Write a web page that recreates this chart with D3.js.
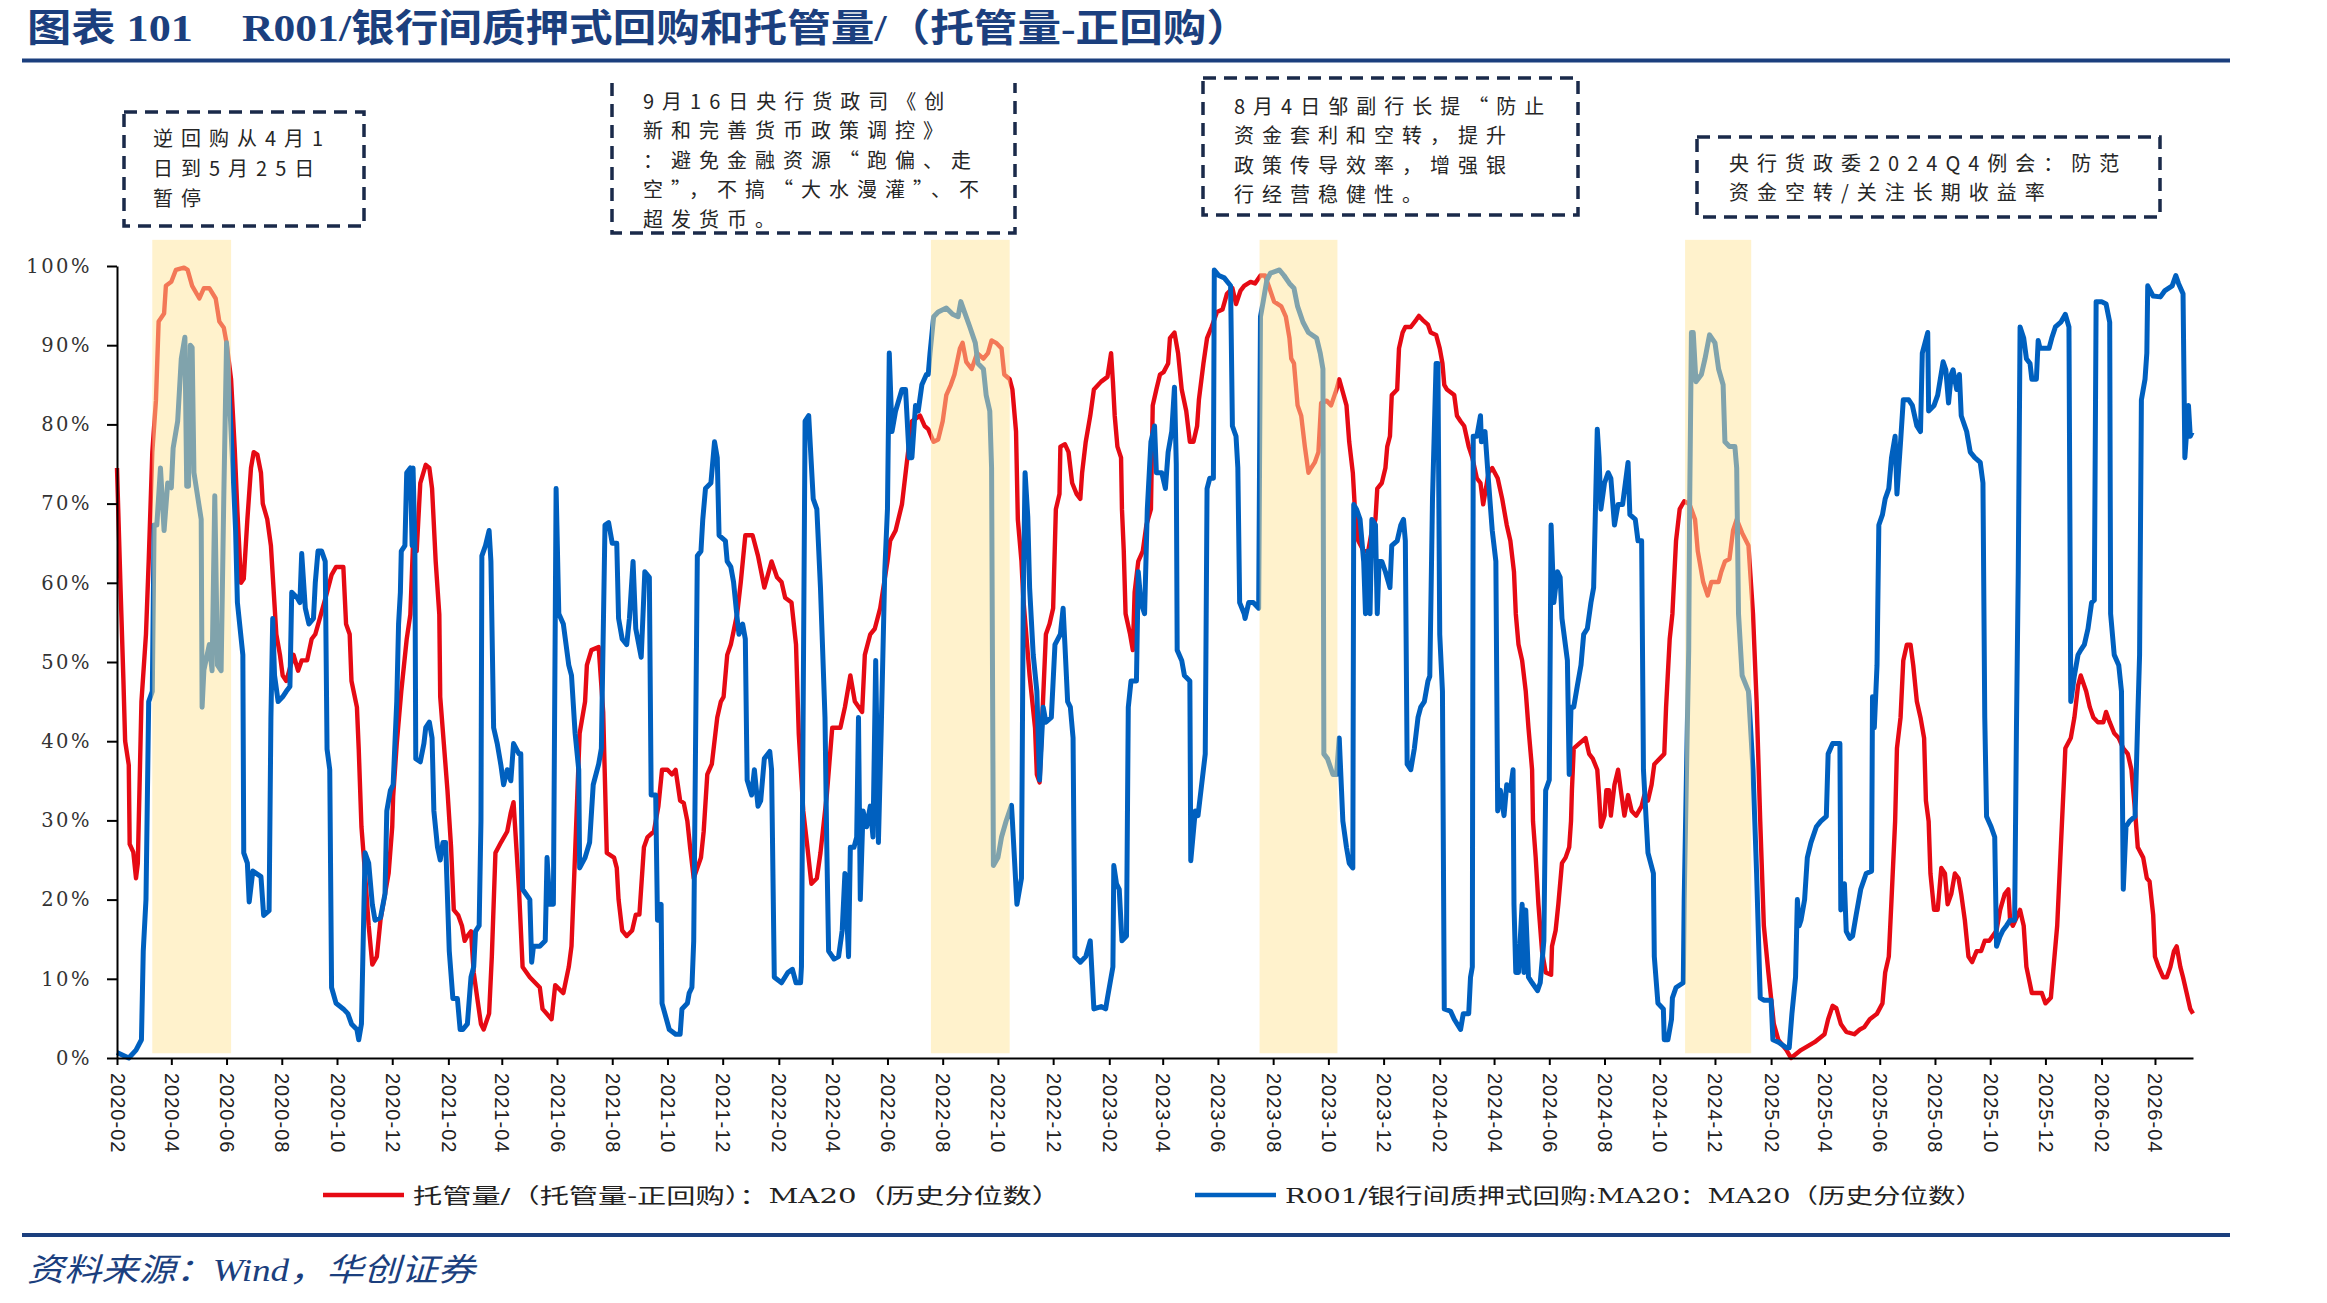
<!DOCTYPE html>
<html><head><meta charset="utf-8">
<script src="https://cdn.jsdelivr.net/npm/d3@7"></script>
<style>
html,body{margin:0;padding:0;background:#fff;}
svg{display:block;}
</style></head>
<body><svg id="chart" width="2327" height="1303"></svg>
<script>
// ---------------- data ----------------
const titleLead = "图表 101";
const titleMain = "R001/银行间质押式回购和托管量/（托管量-正回购）";
const sourceText = "资料来源：Wind，华创证券";
const seriesNames = ["托管量/（托管量-正回购）：MA20（历史分位数）", "R001/银行间质押式回购:MA20：MA20（历史分位数）"];

const xTickLabels = ["2020-02","2020-04","2020-06","2020-08","2020-10","2020-12",
 "2021-02","2021-04","2021-06","2021-08","2021-10","2021-12",
 "2022-02","2022-04","2022-06","2022-08","2022-10","2022-12",
 "2023-02","2023-04","2023-06","2023-08","2023-10","2023-12",
 "2024-02","2024-04","2024-06","2024-08","2024-10","2024-12",
 "2025-02","2025-04","2025-06","2025-08","2025-10","2025-12",
 "2026-02","2026-04"];
const yTickValues = [0,10,20,30,40,50,60,70,80,90,100];
const xDomain = ["2020-02-01","2026-05-13"];

const highlightPeriods = [["2020-03-11","2020-06-06"],["2022-07-19","2022-10-14"],["2023-07-17","2023-10-11"],["2024-10-29","2025-01-10"]];

const annotationTexts = [
 ["逆回购从4月1","日到5月25日","暂停"],
 ["9月16日央行货政司《创","新和完善货币政策调控》","：避免金融资源“跑偏、走","空”，不搞“大水漫灌”、不","超发货币。"],
 ["8月4日邹副行长提“防止","资金套利和空转，提升","政策传导效率，增强银","行经营稳健性。"],
 ["央行货政委2024Q4例会：防范","资金空转/关注长期收益率"]
];

// 托管量/（托管量-正回购）：MA20（历史分位数）, %
const custodyRatio = [
["2020-02-01",74.5],["2020-02-05",59],["2020-02-08",48],["2020-02-10",40],["2020-02-14",37],["2020-02-15",27],["2020-02-19",26],["2020-02-22",22.7],["2020-02-24",24.6],["2020-02-28",45],["2020-03-04",53.5],["2020-03-07",62.7],["2020-03-11",76.5],["2020-03-15",83],["2020-03-18",93],["2020-03-24",94],["2020-03-26",97.5],["2020-04-01",98],["2020-04-06",99.5],["2020-04-15",99.8],["2020-04-19",99.5],["2020-04-24",97.5],["2020-05-02",95.9],["2020-05-07",97.2],["2020-05-13",97.2],["2020-05-20",95.9],["2020-05-24",93],["2020-05-29",92.2],["2020-06-01",90.3],["2020-06-06",85.7],["2020-06-10",77],["2020-06-13",69],["2020-06-17",60],["2020-06-20",60.5],["2020-06-24",68],["2020-06-28",74.5],["2020-07-01",76.5],["2020-07-05",76.2],["2020-07-09",73.9],["2020-07-11",70],["2020-07-16",68],["2020-07-20",64.7],["2020-07-26",53.5],["2020-07-30",50.9],["2020-08-02",48.3],["2020-08-06",47.6],["2020-08-14",50.9],["2020-08-19",48.9],["2020-08-23",50.2],["2020-08-29",50.2],["2020-09-03",52.9],["2020-09-07",53.5],["2020-09-12",55.5],["2020-09-20",58.8],["2020-09-25",61],["2020-09-30",62],["2020-10-08",62],["2020-10-11",54.8],["2020-10-15",53.5],["2020-10-17",47.6],["2020-10-23",44.3],["2020-10-25",39],["2020-10-28",29.2],["2020-11-01",23.3],["2020-11-05",16.7],["2020-11-09",11.8],["2020-11-14",12.8],["2020-11-18",17.4],["2020-11-21",19.4],["2020-11-27",23.3],["2020-12-01",29.2],["2020-12-02",33],["2020-12-06",39.7],["2020-12-11",46.3],["2020-12-17",52.9],["2020-12-21",56],["2020-12-24",65],["2020-12-28",64],["2021-01-01",72.6],["2021-01-07",74.9],["2021-01-11",74.5],["2021-01-14",71.9],["2021-01-18",62.7],["2021-01-22",56],["2021-01-23",45.6],["2021-01-27",39.7],["2021-01-31",33.8],["2021-02-04",26.6],["2021-02-07",18.7],["2021-02-12",18],["2021-02-16",16.7],["2021-02-19",14.8],["2021-02-22",15.4],["2021-02-26",16],["2021-03-01",10.8],["2021-03-05",7.5],["2021-03-09",4.3],["2021-03-12",3.6],["2021-03-18",5.6],["2021-03-21",12.8],["2021-03-25",25.9],["2021-03-31",27.2],["2021-04-07",28.6],["2021-04-11",31],["2021-04-14",32.3],
["2021-04-20",21.3],["2021-04-24",11.5],["2021-05-02",10.2],["2021-05-13",8.9],["2021-05-16",6.2],["2021-05-26",4.9],["2021-05-30",9.2],["2021-06-08",8.2],["2021-06-14",11.5],["2021-06-17",14.1],["2021-06-21",25.9],["2021-06-26",41],["2021-07-02",45],["2021-07-04",49.6],["2021-07-09",51.5],["2021-07-17",51.9],["2021-07-22",43.7],["2021-07-26",25.9],["2021-08-03",25.3],["2021-08-06",24],["2021-08-08",20],["2021-08-12",16.1],["2021-08-17",15.4],["2021-08-23",16.1],["2021-08-27",18.1],["2021-08-31",18.1],["2021-09-05",26.6],["2021-09-09",27.9],["2021-09-16",28.6],["2021-09-21",31.8],["2021-09-25",36.4],["2021-10-01",36.4],["2021-10-06",35.8],["2021-10-10",36.4],["2021-10-15",32.5],["2021-10-19",32.2],["2021-10-23",29.9],["2021-10-26",26.6],["2021-10-30",22.7],["2021-11-07",25.3],["2021-11-10",28.6],["2021-11-14",35.8],["2021-11-19",37.1],["2021-11-25",43],["2021-11-29",45],["2021-12-02",45.6],["2021-12-06",50.9],["2021-12-10",52.2],["2021-12-17",56.1],["2021-12-21",60.1],["2021-12-26",66],["2022-01-03",66],["2022-01-09",63.4],["2022-01-16",59.4],["2022-01-24",62.7],["2022-01-30",60.7],["2022-02-04",60.1],["2022-02-08",58.1],["2022-02-15",57.5],["2022-02-20",52.2],["2022-02-23",41],["2022-02-28",31.2],["2022-03-04",27.2],["2022-03-09",22],["2022-03-15",22.7],["2022-03-19",25.9],["2022-03-26",33.2],["2022-04-01",41.7],["2022-04-10",41.7],["2022-04-15",44.3],["2022-04-21",48.3],["2022-04-26",45],["2022-05-04",43.7],["2022-05-07",50.9],["2022-05-13",53.5],["2022-05-18",54.2],["2022-05-24",56.8],["2022-06-01",62.7],["2022-06-04",65.3],["2022-06-10",66.6],["2022-06-17",69.9],["2022-06-23",75.8],["2022-06-28",80.4],["2022-07-07",81.1],["2022-07-12",79.8],
["2022-07-16",79.4],["2022-07-22",77.8],["2022-07-27",78.1],["2022-08-01",80.4],["2022-08-05",83.7],["2022-08-10",85],["2022-08-14",86.3],["2022-08-20",89.6],["2022-08-23",90.3],["2022-08-27",87.9],["2022-09-02",87],["2022-09-08",89],["2022-09-15",88.3],["2022-09-20",89],["2022-09-24",90.6],["2022-09-29",90.3],["2022-10-05",89.6],["2022-10-08",86.3],["2022-10-14",85.7],["2022-10-17",84.4],["2022-10-21",79.1],["2022-10-23",68],["2022-10-27",62.7],["2022-10-29",58.1],["2022-11-05",48.3],["2022-11-11",41.7],["2022-11-13",35.8],["2022-11-16",34.8],["2022-11-20",45.6],["2022-11-23",53.5],["2022-11-27",54.8],["2022-12-01",56.8],["2022-12-04",69.3],["2022-12-08",71.2],["2022-12-09",77.2],["2022-12-14",77.5],["2022-12-18",76.5],["2022-12-22",72.6],["2022-12-27",71.2],["2022-12-31",70.6],["2023-01-02",73.9],["2023-01-06",77.8],["2023-01-11",81.1],["2023-01-15",84.4],["2023-01-23",85.4],["2023-01-30",86],["2023-02-03",89],["2023-02-05",85.4],["2023-02-07",81.1],["2023-02-10",77.2],["2023-02-14",75.8],["2023-02-15",69.3],["2023-02-17",64],["2023-02-19",56.1],["2023-02-24",53.5],["2023-02-27",51.5],["2023-03-01",58.8],["2023-03-05",62.7],["2023-03-10",64],["2023-03-14",67.3],["2023-03-19",69.3],["2023-03-21",82.4],["2023-03-25",84.4],["2023-03-29",86.3],["2023-04-02",86.6],["2023-04-07",87.7],["2023-04-09",90.9],["2023-04-14",91.6],["2023-04-18",89],["2023-04-22",84.4],["2023-04-27",81.7],["2023-05-01",77.8],["2023-05-05",77.8],["2023-05-09",79.8],["2023-05-11",83.1],["2023-05-16",87.7],["2023-05-20",90.9],["2023-05-25",92.3],["2023-05-31",94.2],["2023-06-06",94.5],["2023-06-11",96.5],["2023-06-17",97.2],["2023-06-21",95.2],["2023-06-26",96.9],["2023-06-30",97.5],["2023-07-07",98],["2023-07-12",97.8],["2023-07-18",98.8],["2023-07-23",98.8],["2023-07-27",97.5],["2023-08-02",95.5],["2023-08-10",94.9],["2023-08-15",93.6],["2023-08-19",90.9],["2023-08-21",88.3],["2023-08-24",87.7],["2023-08-28",82.4],["2023-09-01",81.1],["2023-09-05",77.2],["2023-09-09",73.9],["2023-09-12",74.5],["2023-09-16",75.2],["2023-09-20",76.5],["2023-09-23",82.7],["2023-09-29",83],["2023-10-04",82.4],["2023-10-10",84.4],
["2023-10-13",85.7],["2023-10-21",82.4],["2023-10-24",77.8],["2023-10-28",73.9],["2023-10-30",69.9],["2023-11-03",65.3],["2023-11-09",64],["2023-11-14",64],["2023-11-18",66.6],["2023-11-22",68],["2023-11-24",71.9],["2023-11-29",72.6],["2023-12-03",74.5],["2023-12-05",77.2],["2023-12-08",78.5],["2023-12-10",83.7],["2023-12-16",84.4],["2023-12-18",89.6],["2023-12-22",91.6],["2023-12-25",92.3],["2023-12-31",92.3],["2024-01-06",93.2],["2024-01-09",93.7],["2024-01-13",93.2],["2024-01-19",92.6],["2024-01-22",91.6],["2024-01-28",91.3],["2024-02-01",89.6],["2024-02-04",87.7],["2024-02-06",85],["2024-02-09",84.4],["2024-02-17",83.7],["2024-02-20",81.1],["2024-02-24",80.4],["2024-02-28",79.8],["2024-03-04",77.2],["2024-03-08",75.8],["2024-03-13",73.2],["2024-03-17",72.6],["2024-03-20",69.9],["2024-03-26",73.9],["2024-03-30",74.5],["2024-04-05",73.2],["2024-04-10",70.6],["2024-04-15",67.3],["2024-04-19",65.3],["2024-04-23",61.4],["2024-04-25",56.1],["2024-04-28",52.2],["2024-05-02",50.2],["2024-05-06",46.3],["2024-05-09",41.7],["2024-05-13",36.4],["2024-05-14",29.9],["2024-05-17",25.3],["2024-05-20",19.4],["2024-05-24",13.5],["2024-05-28",10.8],["2024-06-03",10.5],["2024-06-04",14.1],["2024-06-08",16.1],["2024-06-11",19.4],["2024-06-15",24.6],["2024-06-19",25.3],["2024-06-23",26.6],["2024-06-25",29.9],["2024-06-26",33.8],["2024-06-28",39.1],["2024-07-04",39.7],["2024-07-11",40.4],["2024-07-15",38.4],["2024-07-19",37.8],["2024-07-24",36.4],["2024-07-26",33.2],["2024-07-28",29.2],["2024-08-01",30.6],["2024-08-03",33.8],["2024-08-06",33.8],["2024-08-08",30.6],["2024-08-12",34.5],["2024-08-16",36.4],["2024-08-19",33.8],["2024-08-23",30.6],["2024-08-27",33.2],["2024-08-31",31.2],["2024-09-05",30.6],["2024-09-11",31.8],["2024-09-14",33.2],["2024-09-18",32.5],["2024-09-22",34.5],["2024-09-25",37.1],["2024-10-01",37.8],["2024-10-06",38.4],["2024-10-08",44.3],["2024-10-12",52.9],["2024-10-15",56.1],["2024-10-19",65.3],["2024-10-23",69.3],["2024-10-28",70.3],["2024-11-03",69.9],["2024-11-09",68],["2024-11-12",64],["2024-11-18",60.1],["2024-11-23",58.4],["2024-11-27",60.1],["2024-12-05",60.1],["2024-12-08",61.4],["2024-12-12",62.7],["2024-12-17",63],["2024-12-21",66.6],["2024-12-25",68],["2024-12-31",66.3],
["2025-01-07",64.7],["2025-01-12",56.1],["2025-01-16",45],["2025-01-20",29.9],["2025-01-24",16.7],["2025-01-29",10.8],["2025-02-04",4.3],["2025-02-09",2.3],["2025-02-18",1],["2025-02-23",0],["2025-03-06",1],["2025-03-21",2],["2025-04-01",3],["2025-04-05",4.9],["2025-04-10",6.6],["2025-04-14",6.3],["2025-04-19",4.3],["2025-04-25",3.3],["2025-05-04",3],["2025-05-10",3.6],["2025-05-15",3.9],["2025-05-21",4.9],["2025-05-29",5.6],["2025-06-04",6.9],["2025-06-07",10.8],["2025-06-11",12.8],["2025-06-14",20],["2025-06-18",29.9],["2025-06-20",39.1],["2025-06-24",43],["2025-06-27",50.2],["2025-07-01",52.2],["2025-07-05",52.2],["2025-07-08",49.6],["2025-07-12",45],["2025-07-16",43],["2025-07-20",40.4],["2025-07-22",32.5],["2025-07-25",29.9],["2025-07-27",23.3],["2025-07-31",18.7],["2025-08-04",18.7],["2025-08-08",24],["2025-08-12",23.3],["2025-08-15",19.4],["2025-08-19",20.7],["2025-08-23",23.3],["2025-08-27",22.7],["2025-08-30",20.7],["2025-09-03",17.4],["2025-09-07",12.8],["2025-09-11",12.1],["2025-09-16",13.5],["2025-09-21",13.5],["2025-09-25",14.8],["2025-09-30",14.8],["2025-10-08",16.1],["2025-10-12",18.7],["2025-10-17",20.7],["2025-10-21",21.3],["2025-10-23",17.4],["2025-10-26",16.7],["2025-11-03",18.7],["2025-11-07",16.7],["2025-11-10",11.5],["2025-11-16",8.2],["2025-11-21",8.2],["2025-11-27",8.2],["2025-12-01",6.9],["2025-12-07",7.6],["2025-12-10",11.5],["2025-12-14",16.7],["2025-12-18",26.6],["2025-12-22",36.4],["2025-12-23",39.1],["2025-12-29",40.4],["2026-01-02",43],["2026-01-06",47],["2026-01-09",48.3],["2026-01-15",46.3],["2026-01-19",44.3],["2026-01-23",43],["2026-01-28",42.4],["2026-02-03",42.4],["2026-02-06",43.7],["2026-02-10",42.4],["2026-02-15",41],["2026-02-20",40.4],["2026-02-25",39.1],["2026-03-02",38.4],["2026-03-06",36.4],["2026-03-10",31.2],["2026-03-13",26.6],["2026-03-19",25.3],["2026-03-23",22.7],["2026-03-26",22.3],["2026-03-30",18.1],["2026-04-01",12.8],["2026-04-05",11.5],["2026-04-10",10.2],["2026-04-14",10.2],["2026-04-18",11.5],["2026-04-22",13.5],["2026-04-25",14.1],["2026-04-29",11.5],["2026-05-02",10.2],["2026-05-06",8.2],["2026-05-10",6.2],["2026-05-13",5.6]
];

// R001/银行间质押式回购:MA20：MA20（历史分位数）, %
const r001Ratio = [
["2020-02-01",0.7],["2020-02-14",0],["2020-02-22",1],["2020-02-28",2.3],["2020-03-01",13.5],["2020-03-04",20],["2020-03-07",45],["2020-03-11",46.3],["2020-03-13",67.3],["2020-03-16",67.3],["2020-03-20",74.5],["2020-03-24",66.6],["2020-03-28",72.6],["2020-04-01",72],["2020-04-03",77],["2020-04-08",80.4],["2020-04-12",88.3],["2020-04-16",91],["2020-04-18",72.2],["2020-04-20",72.2],["2020-04-22",90],["2020-04-24",89.7],["2020-04-26",73.9],["2020-05-04",68],["2020-05-05",44.3],["2020-05-07",49],["2020-05-13",52.2],["2020-05-16",48.9],["2020-05-19",71],["2020-05-22",49.6],["2020-05-26",48.9],["2020-05-29",71.2],["2020-06-01",90.3],["2020-06-04",83.7],["2020-06-08",74.5],["2020-06-11",66.6],["2020-06-13",57.5],["2020-06-19",50.9],["2020-06-20",25.9],["2020-06-24",24.6],["2020-06-26",19.7],["2020-06-30",23.6],["2020-07-09",22.9],["2020-07-12",18],["2020-07-18",18.6],["2020-07-20",43],["2020-07-22",55.5],["2020-07-24",48.3],["2020-07-28",45],["2020-08-02",45.6],["2020-08-06",46.3],["2020-08-10",46.9],["2020-08-12",58.8],["2020-08-18",58.1],["2020-08-21",57.5],["2020-08-23",63.7],["2020-08-27",56.8],["2020-08-31",54.8],["2020-09-05",55.5],["2020-09-07",60],["2020-09-10",64],["2020-09-14",64],["2020-09-18",62.7],["2020-09-20",39],["2020-09-23",36.4],["2020-09-25",8.9],["2020-09-30",6.9],["2020-10-08",6.2],["2020-10-13",5.6],["2020-10-17",4.3],["2020-10-23",3.6],["2020-10-25",2.3],["2020-10-28",4.3],["2020-11-01",25.9],["2020-11-05",24.6],["2020-11-09",19.4],["2020-11-12",17.4],["2020-11-18",17.7],["2020-11-23",20.7],["2020-11-25",31.2],["2020-11-29",33.8],["2020-12-02",34.5],["2020-12-06",45],["2020-12-08",54.8],["2020-12-10",58.8],["2020-12-11",64],["2020-12-15",64.7],["2020-12-17",73.9],["2020-12-21",74.5],["2020-12-23",64.7],["2020-12-24",74.5],["2020-12-26",64.7],["2020-12-27",37.8],["2021-01-01",37.4],["2021-01-05",39.7],["2021-01-07",41.7],["2021-01-11",42.4],["2021-01-14",40.4],["2021-01-16",31.2],["2021-01-20",26.6],["2021-01-23",25],["2021-01-26",27.2],["2021-01-29",27.2],["2021-02-02",13.5],["2021-02-06",7.5],["2021-02-11",7.5],["2021-02-14",3.6],["2021-02-17",3.6],["2021-02-22",4.3],["2021-02-26",10.2],["2021-03-01",11.5],["2021-03-03",16],["2021-03-07",16.7],["2021-03-09",29.9],["2021-03-10",63.4],["2021-03-14",64.7],["2021-03-18",66.6],["2021-03-20",62.7],["2021-03-23",41.7],["2021-03-27",39.7],["2021-03-31",37],["2021-04-03",34.5],["2021-04-07",36.4],["2021-04-11",35],["2021-04-14",39.7],
["2021-04-20",38.4],["2021-04-22",38.4],["2021-04-24",21.3],["2021-05-02",20],["2021-05-04",12.1],["2021-05-06",14.1],["2021-05-13",14.1],["2021-05-19",14.8],["2021-05-21",25.3],["2021-05-24",19.4],["2021-05-28",19.4],["2021-05-31",71.9],["2021-06-03",56.1],["2021-06-08",54.8],["2021-06-14",49.6],["2021-06-17",48.3],["2021-06-21",41],["2021-06-25",36.4],["2021-06-26",24],["2021-07-02",25.3],["2021-07-07",27.2],["2021-07-11",34.5],["2021-07-17",37.1],["2021-07-20",39.1],["2021-07-24",67.3],["2021-07-28",67.6],["2021-08-01",65],["2021-08-06",65],["2021-08-08",55.5],["2021-08-12",52.9],["2021-08-17",52.2],["2021-08-20",55.5],["2021-08-24",62.7],["2021-08-27",54.2],["2021-09-02",50.6],["2021-09-06",61.4],["2021-09-11",60.7],["2021-09-13",33.2],["2021-09-18",33.2],["2021-09-20",17.4],["2021-09-24",19.4],["2021-09-25",6.9],["2021-10-03",3.6],["2021-10-10",3],["2021-10-15",3],["2021-10-17",6.2],["2021-10-23",6.9],["2021-10-25",8.2],["2021-10-28",8.9],["2021-10-30",14.8],["2021-11-03",63.4],["2021-11-07",64],["2021-11-09",68],["2021-11-12",71.9],["2021-11-18",72.6],["2021-11-22",77.8],["2021-11-25",75.8],["2021-11-27",66],["2021-12-04",65.3],["2021-12-06",62.7],["2021-12-10",62],["2021-12-13",60.1],["2021-12-17",55.5],["2021-12-19",53.5],["2021-12-23",54.8],["2021-12-26",52.9],["2021-12-28",35.1],["2022-01-02",33.2],["2022-01-05",36.4],["2022-01-09",31.8],["2022-01-12",32.5],["2022-01-16",37.8],["2022-01-22",38.7],["2022-01-24",36.4],["2022-01-27",10.2],["2022-02-04",9.5],["2022-02-11",10.8],["2022-02-16",11.2],["2022-02-20",9.5],["2022-02-25",9.5],["2022-02-26",11.5],["2022-03-02",80.4],["2022-03-06",81.1],["2022-03-11",70.6],["2022-03-15",69.3],["2022-03-19",59.4],["2022-03-24",43],["2022-03-26",26.6],["2022-03-28",13.5],["2022-04-03",12.5],["2022-04-08",12.8],["2022-04-12",16.1],["2022-04-15",23.3],["2022-04-19",12.8],["2022-04-21",26.6],["2022-04-25",26.6],["2022-04-28",27.9],["2022-04-30",43],["2022-05-02",20],["2022-05-05",31.2],["2022-05-09",29.2],["2022-05-13",31.8],["2022-05-16",27.9],["2022-05-19",50.2],["2022-05-22",27.2],["2022-05-25",41],["2022-05-29",61.4],["2022-06-01",69.3],["2022-06-03",89],["2022-06-06",79.1],["2022-06-10",81.7],["2022-06-17",84.4],["2022-06-21",84.4],["2022-06-25",75.8],["2022-06-28",75.8],["2022-07-02",82.4],["2022-07-05",81.7],["2022-07-09",85],["2022-07-14",86.3],
["2022-07-16",86.3],["2022-07-18",89],["2022-07-22",93.6],["2022-07-27",94.2],["2022-08-05",94.7],["2022-08-12",93.9],["2022-08-18",93.6],["2022-08-21",95.5],["2022-08-25",94.2],["2022-08-31",92.3],["2022-09-06",90.3],["2022-09-09",87.7],["2022-09-15",87],["2022-09-18",83.7],["2022-09-22",81.7],["2022-09-24",74.5],["2022-09-26",24.3],["2022-10-01",25.3],["2022-10-05",27.9],["2022-10-10",29.9],["2022-10-16",31.9],["2022-10-17",29.9],["2022-10-22",19.4],["2022-10-27",22.7],["2022-10-29",58.1],["2022-10-31",73.9],["2022-11-03",68.3],["2022-11-05",59.4],["2022-11-09",50.9],["2022-11-13",46.3],["2022-11-16",35.1],["2022-11-20",44.3],["2022-11-23",42.4],["2022-11-29",43],["2022-12-03",52.2],["2022-12-09",53.5],["2022-12-12",56.8],["2022-12-14",52.2],["2022-12-17",45],["2022-12-20",44.3],["2022-12-23",40.4],["2022-12-25",12.8],["2022-12-31",12.1],["2023-01-06",12.8],["2023-01-11",14.8],["2023-01-15",6.2],["2023-01-23",6.5],["2023-01-28",6.2],["2023-01-30",7.6],["2023-02-05",11.5],["2023-02-06",24.3],["2023-02-09",22],["2023-02-12",21.3],["2023-02-15",14.8],["2023-02-20",15.4],["2023-02-22",44.3],["2023-02-25",47.6],["2023-03-03",47.6],["2023-03-05",61.4],["2023-03-08",57.5],["2023-03-12",56.1],["2023-03-15",69.3],["2023-03-19",77.8],["2023-03-23",79.8],["2023-03-25",73.9],["2023-03-31",73.9],["2023-04-04",71.9],["2023-04-07",76.5],["2023-04-11",79.1],["2023-04-14",84.7],["2023-04-16",75],["2023-04-17",51.5],["2023-04-22",50.2],["2023-04-25",48.3],["2023-05-01",47.6],["2023-05-02",24.9],["2023-05-07",31.2],["2023-05-10",30.6],["2023-05-14",34.5],["2023-05-18",38.4],["2023-05-20",71.9],["2023-05-23",73.2],["2023-05-27",73.2],["2023-05-28",99.5],["2023-06-02",98.8],["2023-06-08",98.5],["2023-06-15",97.5],["2023-06-17",79.8],["2023-06-21",78.5],["2023-06-23",74.5],["2023-06-25",57.5],["2023-06-30",56.1],["2023-07-01",55.5],["2023-07-05",57.5],["2023-07-10",57.5],["2023-07-16",56.8],["2023-07-18",93.6],["2023-07-21",95.5],["2023-07-25",98.2],["2023-07-29",99.1],["2023-08-08",99.5],["2023-08-13",98.8],["2023-08-19",97.8],["2023-08-24",97.2],["2023-08-28",94.9],["2023-09-03",92.9],["2023-09-09",91.6],["2023-09-18",90.9],["2023-09-22",89],["2023-09-25",87],["2023-09-26",38.4],["2023-09-30",37.8],["2023-10-06",35.8],["2023-10-10",35.8],
["2023-10-13",40.4],["2023-10-17",29.9],["2023-10-21",26.6],["2023-10-24",24.6],["2023-10-28",24],["2023-10-29",69.9],["2023-11-01",69.3],["2023-11-05",68],["2023-11-09",62.7],["2023-11-11",56.1],["2023-11-14",64],["2023-11-16",56.1],["2023-11-18",68],["2023-11-22",67.3],["2023-11-24",56.1],["2023-11-26",62.7],["2023-11-29",62.7],["2023-12-03",61.4],["2023-12-08",59.4],["2023-12-10",64.7],["2023-12-16",65.3],["2023-12-20",67.3],["2023-12-23",68],["2023-12-25",65.3],["2023-12-27",37.1],["2023-12-31",36.4],["2024-01-04",39.1],["2024-01-08",43],["2024-01-11",44.3],["2024-01-15",45],["2024-01-19",47.6],["2024-01-21",48.2],["2024-01-24",70.6],["2024-01-28",87.7],["2024-01-30",87.7],["2024-02-01",53.5],["2024-02-04",46.3],["2024-02-06",6.2],["2024-02-13",5.9],["2024-02-17",4.9],["2024-02-24",3.6],["2024-02-27",5.6],["2024-03-04",5.6],["2024-03-06",10.2],["2024-03-08",11.5],["2024-03-09",78.5],["2024-03-13",78.5],["2024-03-17",81.1],["2024-03-18",77.8],["2024-03-22",79.1],["2024-03-26",72.6],["2024-03-30",66.6],["2024-04-03",62.7],["2024-04-05",31.2],["2024-04-08",33.8],["2024-04-12",30.6],["2024-04-15",34.5],["2024-04-19",33.8],["2024-04-22",36.4],["2024-04-23",19.4],["2024-04-25",10.8],["2024-04-28",10.8],["2024-05-02",19.4],["2024-05-04",10.8],["2024-05-06",18.7],["2024-05-09",10.2],["2024-05-13",9.5],["2024-05-19",8.5],["2024-05-22",9.5],["2024-05-26",14.8],["2024-05-28",33.8],["2024-06-01",35.1],["2024-06-03",67.3],["2024-06-06",57.5],["2024-06-10",61.4],["2024-06-13",60.7],["2024-06-15",55.5],["2024-06-21",50.2],["2024-06-23",35.8],["2024-06-25",44.3],["2024-06-28",44.3],["2024-07-02",47],["2024-07-06",49.6],["2024-07-09",53.5],["2024-07-13",54.2],["2024-07-17",57.5],["2024-07-20",59.4],["2024-07-24",79.4],["2024-07-26",75.8],["2024-07-28",69.3],["2024-08-01",72.6],["2024-08-05",73.9],["2024-08-08",73.2],["2024-08-12",67.3],["2024-08-16",69.9],["2024-08-21",69.9],["2024-08-27",75.2],["2024-08-29",68.6],["2024-09-04",68],["2024-09-07",65.3],["2024-09-11",65.3],["2024-09-13",36.4],["2024-09-18",25.9],["2024-09-24",23.3],["2024-09-25",12.8],["2024-09-29",6.9],["2024-10-05",6.2],["2024-10-06",2.3],["2024-10-10",2.3],["2024-10-14",4.9],["2024-10-15",7.6],["2024-10-19",8.9],["2024-10-27",9.5],["2024-10-28",20],["2024-11-02",51.5],["2024-11-03",69.3],["2024-11-05",91.6],["2024-11-07",91.6],["2024-11-10",85.4],["2024-11-16",86.3],["2024-11-20",88.3],["2024-11-25",91.3],["2024-12-01",90.3],["2024-12-05",87],["2024-12-10",85],["2024-12-12",77.8],["2024-12-17",77.2],["2024-12-23",77.2],["2024-12-25",74.5],["2024-12-27",56.1],["2024-12-31",48.3],
["2025-01-07",46.3],["2025-01-12",36.4],["2025-01-16",23.3],["2025-01-20",7.6],["2025-01-24",7.3],["2025-02-01",7.3],["2025-02-03",2.3],["2025-02-09",2],["2025-02-18",1.3],["2025-02-21",1.3],["2025-02-24",5.6],["2025-02-28",10.2],["2025-03-02",20],["2025-03-04",16.7],["2025-03-06",17.4],["2025-03-10",20],["2025-03-13",25.3],["2025-03-17",27.2],["2025-03-23",29.2],["2025-03-28",29.9],["2025-04-03",30.5],["2025-04-05",38.4],["2025-04-10",39.7],["2025-04-18",39.7],["2025-04-19",18.7],["2025-04-23",22],["2025-04-25",16],["2025-04-29",15.1],["2025-05-02",15.4],["2025-05-06",18.1],["2025-05-11",21.3],["2025-05-17",23.3],["2025-05-23",23.6],["2025-05-24",45.6],["2025-05-26",41.7],["2025-05-29",49.6],["2025-05-31",67.3],["2025-06-04",68.6],["2025-06-07",70.6],["2025-06-11",71.9],["2025-06-14",75.8],["2025-06-18",78.5],["2025-06-20",71.2],["2025-06-24",77.8],["2025-06-27",83.1],["2025-07-03",83.1],["2025-07-07",82.4],["2025-07-12",79.8],["2025-07-16",79.1],["2025-07-18",89],["2025-07-24",91.6],["2025-07-25",81.7],["2025-07-31",82.4],["2025-08-04",83.7],["2025-08-10",87.9],["2025-08-13",86.9],["2025-08-16",82.7],["2025-08-19",86.3],["2025-08-21",86.9],["2025-08-25",84.4],["2025-08-28",86.3],["2025-08-30",81.1],["2025-09-05",79.1],["2025-09-09",76.5],["2025-09-14",75.8],["2025-09-20",75.2],["2025-09-23",72.6],["2025-09-25",43],["2025-09-27",30.5],["2025-10-02",29.2],["2025-10-06",27.9],["2025-10-08",14.1],["2025-10-12",15.4],["2025-10-15",16.1],["2025-10-19",16.7],["2025-10-23",17.4],["2025-10-28",17.4],["2025-10-30",41.7],["2025-11-01",61.4],["2025-11-03",92.3],["2025-11-07",90.9],["2025-11-10",88.3],["2025-11-14",87.7],["2025-11-16",85.7],["2025-11-21",85.7],["2025-11-23",90.6],["2025-11-25",89.6],["2025-12-05",89.6],["2025-12-08",90.9],["2025-12-12",92.3],["2025-12-18",92.9],["2025-12-23",93.9],["2025-12-27",92.3],["2025-12-29",45],["2026-01-02",48.3],["2026-01-06",50.9],["2026-01-09",51.5],["2026-01-13",52.2],["2026-01-17",54.2],["2026-01-21",57.5],["2026-01-24",57.8],["2026-01-26",95.5],["2026-02-01",95.5],["2026-02-06",95.2],["2026-02-10",92.9],["2026-02-11",56.1],["2026-02-15",50.9],["2026-02-20",49.6],["2026-02-23",46.3],["2026-02-25",21.3],["2026-02-28",29.2],["2026-03-04",29.9],["2026-03-10",30.5],["2026-03-13",43],["2026-03-15",50.9],["2026-03-17",83.1],["2026-03-21",85.7],["2026-03-23",89],["2026-03-24",97.5],["2026-03-30",96.2],["2026-04-07",96.1],["2026-04-12",96.9],["2026-04-20",97.5],["2026-04-24",98.8],["2026-04-27",97.8],["2026-05-02",96.5],["2026-05-04",75.8],["2026-05-08",82.4],["2026-05-10",78.5],["2026-05-12",79]
];

// ---------------- drawing ----------------
const parse = d3.timeParse("%Y-%m-%d");
const parseMonth = d3.timeParse("%Y-%m");
const svg = d3.select("#chart");
const NAVY = "#1B3F7E";

const x = d3.scaleTime().domain(xDomain.map(parse)).range([117, 2193]);
const y = d3.scaleLinear().domain([0, 100]).range([1058, 266]);

// title
svg.append("text").attr("x", 27).attr("y", 41).text(titleLead)
  .attr("fill", NAVY).attr("font-family", "'Liberation Serif','Noto Sans CJK SC',serif")
  .attr("font-weight", "bold").attr("font-size", 38)
  .attr("textLength", 166).attr("lengthAdjust", "spacingAndGlyphs");
svg.append("text").attr("x", 242).attr("y", 41).text(titleMain)
  .attr("fill", NAVY).attr("font-family", "'Liberation Serif','Noto Sans CJK SC',serif")
  .attr("font-weight", "bold").attr("font-size", 38)
  .attr("textLength", 1008).attr("lengthAdjust", "spacingAndGlyphs");
svg.append("rect").attr("x", 22).attr("y", 58.5).attr("width", 2208).attr("height", 4).attr("fill", NAVY);

// bottom rule & source
svg.append("rect").attr("x", 22).attr("y", 1233).attr("width", 2208).attr("height", 4).attr("fill", NAVY);
svg.append("text").attr("x", 27).attr("y", 1281).text(sourceText)
  .attr("fill", NAVY).attr("font-family", "'Liberation Serif','Noto Sans CJK SC',serif")
  .attr("font-style", "italic").attr("font-size", 32)
  .attr("textLength", 448).attr("lengthAdjust", "spacingAndGlyphs");

// lines
const line = d3.line().x(d => x(parse(d[0]))).y(d => y(d[1]));
svg.append("path").datum(custodyRatio).attr("d", line)
  .attr("fill", "none").attr("stroke", "#E60A14").attr("stroke-width", 4.4)
  .attr("stroke-linejoin", "round");
svg.append("path").datum(r001Ratio).attr("d", line)
  .attr("fill", "none").attr("stroke", "#0060BF").attr("stroke-width", 5)
  .attr("stroke-linejoin", "round");

// highlight bands (semi-transparent, over lines)
svg.append("g").selectAll("rect").data(highlightPeriods).join("rect")
  .attr("x", d => x(parse(d[0])))
  .attr("width", d => x(parse(d[1])) - x(parse(d[0])))
  .attr("y", y(103.3)).attr("height", y(0.6) - y(103.3))
  .attr("fill", "rgb(255,229,153)").attr("fill-opacity", 0.5);

// axes
const xAxis = d3.axisBottom(x).tickValues(xTickLabels.map(parseMonth))
  .tickFormat(d3.timeFormat("%Y-%m")).tickSize(7).tickSizeOuter(0);
const gx = svg.append("g").attr("transform", "translate(0,1058)").call(xAxis);
gx.select(".domain").attr("stroke", "#000").attr("stroke-width", 2);
gx.selectAll(".tick line").attr("stroke", "#000").attr("stroke-width", 2);
gx.selectAll(".tick text")
  .attr("transform", "rotate(90)").attr("x", 15).attr("y", 0).attr("dy", null)
  .attr("dominant-baseline", "central").attr("text-anchor", "start")
  .attr("font-family", "'Liberation Sans',Arial,sans-serif").attr("font-size", 20)
  .attr("letter-spacing", 1).attr("fill", "#222");

const yAxis = d3.axisLeft(y).tickValues(yTickValues).tickFormat(d => d + "%")
  .tickSize(10).tickSizeOuter(0).tickPadding(15);
const gy = svg.append("g").attr("transform", "translate(117,0)").call(yAxis);
gy.select(".domain").attr("stroke", "#000").attr("stroke-width", 2);
gy.selectAll(".tick line").attr("stroke", "#000").attr("stroke-width", 2);
gy.selectAll(".tick text")
  .attr("font-family", "'DejaVu Serif',serif").attr("font-size", 19.5)
  .attr("letter-spacing", 2.5).attr("fill", "#333");

// legend
const legendItems = [
  {name: seriesNames[0], color: "#E60A14", x1: 323, x2: 404, tx: 413, tl: 648},
  {name: seriesNames[1], color: "#0060BF", x1: 1195, x2: 1276, tx: 1285, tl: 698}
];
const lg = svg.append("g");
legendItems.forEach(it => {
  lg.append("line").attr("x1", it.x1).attr("x2", it.x2).attr("y1", 1195).attr("y2", 1195)
    .attr("stroke", it.color).attr("stroke-width", 4.5);
  lg.append("text").attr("x", it.tx).attr("y", 1203).text(it.name)
    .attr("font-family", "'DejaVu Serif','Noto Sans CJK SC',serif").attr("font-size", 21)
    .attr("fill", "#222").attr("textLength", it.tl).attr("lengthAdjust", "spacingAndGlyphs");
});

// annotation boxes
const boxLayout = [
  {x0: 124, x1: 364, y0: 112, y1: 226, openTop: false, tx: 153, ty: 137, dy: 30},
  {x0: 612, x1: 1015, y0: 83, y1: 233, openTop: true, tx: 643, ty: 100, dy: 29.5},
  {x0: 1203, x1: 1578, y0: 78, y1: 215, openTop: false, tx: 1234, ty: 105, dy: 29.6},
  {x0: 1697, x1: 2160, y0: 137, y1: 217, openTop: false, tx: 1729, ty: 162, dy: 29.5}
];
const ag = svg.append("g");
boxLayout.forEach((b, i) => {
  const p = d3.path();
  if (b.openTop) {
    p.moveTo(b.x0, b.y0); p.lineTo(b.x0, b.y1); p.lineTo(b.x1, b.y1); p.lineTo(b.x1, b.y0);
  } else {
    p.moveTo(b.x0, b.y0); p.lineTo(b.x1, b.y0); p.lineTo(b.x1, b.y1); p.lineTo(b.x0, b.y1); p.closePath();
  }
  ag.append("path").attr("d", p.toString()).attr("fill", "none")
    .attr("stroke", "#1A2A4A").attr("stroke-width", 3.5).attr("stroke-dasharray", "13 8");
  annotationTexts[i].forEach((t, k) => {
    ag.append("text").attr("x", b.tx).attr("y", b.ty + k * b.dy).text(t)
      .attr("dominant-baseline", "central")
      .attr("font-family", "'Noto Sans CJK SC',sans-serif").attr("font-size", 20)
      .attr("letter-spacing", 8).attr("fill", "#262626");
  });
});
</script>
</body></html>
